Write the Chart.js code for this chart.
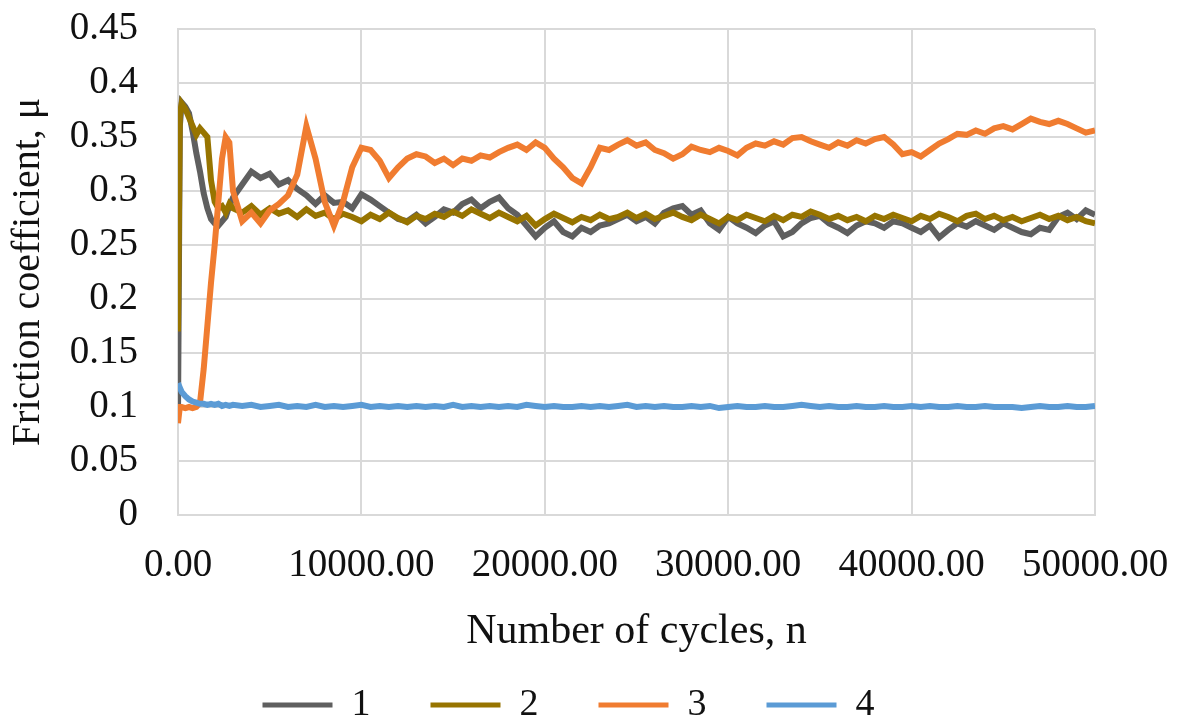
<!DOCTYPE html>
<html>
<head>
<meta charset="utf-8">
<title>Friction coefficient vs cycles</title>
<script src="https://cdn.jsdelivr.net/npm/chart.js@4.4.1/dist/chart.umd.min.js"></script>
<style>
  html, body { margin: 0; padding: 0; background: #fff; }
  #wrap { position: relative; width: 1182px; height: 720px; }
</style>
</head>
<body>
<div id="wrap"><canvas id="frictionChart"></canvas></div>
<script>
// x positions (number of cycles)
const cycles = [
  0, 100, 200, 400, 600, 800, 1000, 1200, 1400, 1600, 1800, 2000, 2200, 2400, 2600, 2800, 3000,
  3500, 4000, 4500, 5000, 5500, 6000, 6500, 7000, 7500, 8000,
  8500, 9000, 9500, 10000, 10500, 11000, 11500, 12000, 12500, 13000,
  13500, 14000, 14500, 15000, 15500, 16000, 16500, 17000, 17500, 18000,
  18500, 19000, 19500, 20000, 20500, 21000, 21500, 22000, 22500, 23000,
  23500, 24000, 24500, 25000, 25500, 26000, 26500, 27000, 27500, 28000,
  28500, 29000, 29500, 30000, 30500, 31000, 31500, 32000, 32500, 33000,
  33500, 34000, 34500, 35000, 35500, 36000, 36500, 37000, 37500, 38000,
  38500, 39000, 39500, 40000, 40500, 41000, 41500, 42000, 42500, 43000,
  43500, 44000, 44500, 45000, 45500, 46000, 46500, 47000, 47500, 48000,
  48500, 49000, 49500, 50000
];

const series1 = [
  0.09, 0.36, 0.382, 0.378, 0.372, 0.355, 0.335, 0.318, 0.298, 0.284, 0.274, 0.27, 0.268, 0.272, 0.276, 0.286, 0.294,
  0.306, 0.318, 0.312, 0.316, 0.306, 0.31, 0.302, 0.296, 0.288, 0.296,
  0.289, 0.29, 0.284, 0.297, 0.292, 0.286, 0.28, 0.274, 0.272, 0.278,
  0.27, 0.276, 0.283, 0.28, 0.288, 0.292, 0.284, 0.29, 0.294, 0.284,
  0.278, 0.268, 0.258, 0.266, 0.272, 0.262, 0.258, 0.266, 0.262, 0.268,
  0.27, 0.274, 0.278, 0.272, 0.276, 0.27, 0.28, 0.284, 0.286, 0.278,
  0.282, 0.27, 0.264, 0.276, 0.27, 0.266, 0.261, 0.268, 0.272, 0.258,
  0.262, 0.27, 0.275, 0.277, 0.27, 0.266, 0.261, 0.268, 0.272, 0.27,
  0.266, 0.272, 0.27, 0.266, 0.262, 0.268, 0.257, 0.264, 0.27, 0.267,
  0.272, 0.268, 0.264, 0.27, 0.266, 0.262, 0.26, 0.266, 0.264, 0.276,
  0.28, 0.274, 0.282, 0.278
];

const series2 = [
  0.17, 0.37, 0.381, 0.376, 0.368, 0.36, 0.352, 0.358, 0.354, 0.35, 0.31, 0.29, 0.284, 0.286, 0.28, 0.288, 0.284,
  0.28, 0.286, 0.278, 0.284, 0.279, 0.282, 0.276, 0.283, 0.277, 0.28,
  0.274, 0.279, 0.276, 0.272, 0.278, 0.274, 0.28, 0.275, 0.271, 0.277,
  0.274, 0.279, 0.276, 0.281, 0.277, 0.283, 0.279, 0.275, 0.28, 0.276,
  0.272, 0.277, 0.268, 0.274, 0.279, 0.275, 0.271, 0.276, 0.273, 0.278,
  0.274, 0.276, 0.28, 0.275, 0.279, 0.274, 0.277, 0.28, 0.276, 0.273,
  0.278, 0.274, 0.27, 0.276, 0.273, 0.278, 0.275, 0.272, 0.277, 0.273,
  0.278, 0.276, 0.281, 0.278, 0.274, 0.277, 0.273, 0.276, 0.272, 0.277,
  0.274, 0.278, 0.275, 0.272, 0.277, 0.274, 0.279, 0.276, 0.272, 0.277,
  0.279, 0.274, 0.277, 0.273, 0.276, 0.272, 0.275, 0.278, 0.274, 0.277,
  0.273, 0.276, 0.272, 0.27
];

const series3 = [
  0.085, 0.1, 0.1, 0.099, 0.1, 0.099, 0.1, 0.104, 0.135, 0.175, 0.215, 0.25, 0.29, 0.33, 0.35, 0.345, 0.3,
  0.272, 0.28, 0.27, 0.282, 0.288, 0.296, 0.315, 0.36, 0.33, 0.29,
  0.268, 0.29, 0.322, 0.34, 0.338, 0.328, 0.312, 0.322, 0.33, 0.334,
  0.332, 0.326, 0.33, 0.324, 0.33, 0.328, 0.333, 0.331, 0.336, 0.34,
  0.343, 0.338, 0.345, 0.34, 0.33, 0.322, 0.312, 0.307, 0.322, 0.34,
  0.338, 0.343, 0.347, 0.342, 0.345, 0.338, 0.335, 0.33, 0.334, 0.341,
  0.338, 0.336, 0.34, 0.337, 0.333, 0.34, 0.344, 0.342, 0.346, 0.343,
  0.349, 0.35, 0.346, 0.343, 0.34, 0.345, 0.342, 0.347, 0.344, 0.348,
  0.35, 0.343, 0.334, 0.336, 0.332, 0.338, 0.344, 0.348, 0.353, 0.352,
  0.356, 0.353, 0.358, 0.36, 0.357, 0.362, 0.367, 0.364, 0.362, 0.365,
  0.362, 0.358, 0.354, 0.356
];

const series4 = [
  0.122, 0.118, 0.114, 0.11, 0.107, 0.105, 0.104, 0.103, 0.103, 0.102, 0.103, 0.102, 0.103, 0.101, 0.102, 0.101, 0.102,
  0.101, 0.102, 0.1, 0.101, 0.102, 0.1, 0.101, 0.1, 0.102, 0.1,
  0.101, 0.1, 0.101, 0.102, 0.1, 0.101, 0.1, 0.101, 0.1, 0.101,
  0.1, 0.101, 0.1, 0.102, 0.1, 0.101, 0.1, 0.101, 0.1, 0.101,
  0.1, 0.102, 0.101, 0.1, 0.101, 0.1, 0.1, 0.101, 0.1, 0.101,
  0.1, 0.101, 0.102, 0.1, 0.101, 0.1, 0.101, 0.1, 0.1, 0.101,
  0.1, 0.101, 0.099, 0.1, 0.101, 0.1, 0.1, 0.101, 0.1, 0.1,
  0.101, 0.102, 0.101, 0.1, 0.101, 0.1, 0.1, 0.101, 0.1, 0.1,
  0.101, 0.1, 0.1, 0.101, 0.1, 0.101, 0.1, 0.1, 0.101, 0.1,
  0.1, 0.101, 0.1, 0.1, 0.1, 0.099, 0.1, 0.101, 0.1, 0.1,
  0.101, 0.1, 0.1, 0.101
];

const seriesNames = ["1", "2", "3", "4"];
const seriesColors = ["#5f5f5f", "#977400", "#f07c30", "#5b9bd5"];
const yTicks = [0, 0.05, 0.1, 0.15, 0.2, 0.25, 0.3, 0.35, 0.4, 0.45];

const FONT = "'Liberation Serif', 'Times New Roman', serif";
const GRID = "#d9d9d9";

function toPoints(values) {
  return values.map((v, i) => ({ x: cycles[i], y: v }));
}

const allSeries = [series1, series2, series3, series4];
const datasets = allSeries.map((values, i) => ({
  label: seriesNames[i],
  data: toPoints(values),
  borderColor: seriesColors[i],
  backgroundColor: seriesColors[i],
  borderWidth: 6,
  pointRadius: 0,
  tension: 0,
  // later series sit on top, like the original
  order: allSeries.length - i,
}));

const ctx = document.getElementById("frictionChart").getContext("2d");
new Chart(ctx, {
  type: "line",
  data: { datasets },
  options: {
    responsive: true,
    maintainAspectRatio: false,
    animation: false,
    // left padding only nudges the centred legend; the y axis width makes up for it
    layout: { padding: { top: 29, right: 87, bottom: -14, left: 42 } },
    scales: {
      x: {
        type: "linear",
        min: 0,
        max: 50000,
        afterFit: (scale) => { scale.height = 111; },
        ticks: {
          stepSize: 10000,
          padding: 0,
          maxRotation: 0,
          color: "#111",
          font: { family: FONT, size: 39 },
          callback: (v) => Number(v).toFixed(2),
        },
        grid: { color: GRID, lineWidth: 2, drawTicks: true, tickLength: 27, tickColor: "rgba(0,0,0,0)" },
        border: { color: GRID, width: 2 },
        title: {
          display: true,
          text: "Number of cycles, n",
          color: "#111",
          font: { family: FONT, size: 42 },
          padding: { top: 0, bottom: -31 },
        },
      },
      y: {
        min: 0,
        max: 0.45,
        afterFit: (scale) => { scale.width = 136; },
        afterBuildTicks: (scale) => { scale.ticks = yTicks.map((v) => ({ value: v })); },
        ticks: {
          padding: 0,
          color: "#111",
          font: { family: FONT, size: 39 },
          callback: (v) => String(Number(v.toFixed(2))),
        },
        grid: { color: GRID, lineWidth: 2, drawTicks: true, tickLength: 40, tickColor: "rgba(0,0,0,0)" },
        border: { color: GRID, width: 2 },
        title: {
          display: true,
          text: "Friction coefficient, μ",
          color: "#111",
          font: { family: FONT, size: 40 },
          padding: { top: -38, bottom: 0 },
        },
      },
    },
    plugins: {
      legend: {
        position: "bottom",
        labels: {
          boxWidth: 70,
          boxHeight: 5,
          padding: 60,
          color: "#111",
          font: { family: FONT, size: 38 },
          generateLabels: (chart) => {
            const items = Chart.defaults.plugins.legend.labels.generateLabels(chart);
            items.forEach((item) => {
              item.lineWidth = 0;
              item.fillStyle = item.strokeStyle;
            });
            return items;
          },
          sort: (a, b) => a.datasetIndex - b.datasetIndex,
        },
      },
      tooltip: { enabled: false },
    },
  },
});
</script>
</body>
</html>
